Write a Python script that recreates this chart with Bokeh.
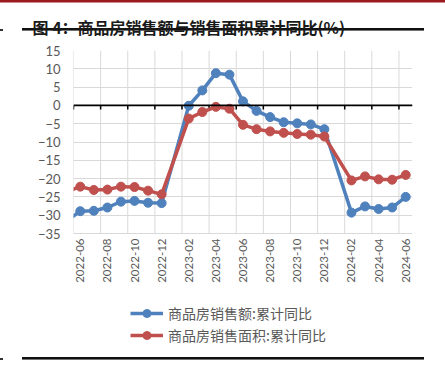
import math
from bokeh.plotting import figure
from bokeh.models import (Range1d, FixedTicker, Span, Legend, LegendItem,
                          InlineStyleSheet, Title)
from bokeh.embed import file_html
from bokeh.resources import INLINE

# ---- data ----
months = ["2022-05", "2022-06", "2022-07", "2022-08", "2022-09", "2022-10",
          "2022-11", "2022-12", "2023-02", "2023-03", "2023-04", "2023-05",
          "2023-06", "2023-07", "2023-08", "2023-09", "2023-10", "2023-11",
          "2023-12", "2024-02", "2024-03", "2024-04", "2024-05", "2024-06"]
sales_amount = [-31.5, -28.9, -28.8, -27.9, -26.3, -26.1, -26.6, -26.7,
                -0.1, 4.1, 8.8, 8.4, 1.1, -1.5, -3.2, -4.6, -4.9, -5.2, -6.5,
                -29.3, -27.6, -28.3, -27.9, -25.0]
sales_area = [-23.6, -22.2, -23.1, -23.0, -22.2, -22.3, -23.3, -24.3,
              -3.6, -1.8, -0.4, -0.9, -5.3, -6.5, -7.1, -7.5, -7.8, -8.0, -8.5,
              -20.5, -19.4, -20.2, -20.3, -19.0]
tick_labels = ["2022-06", "2022-08", "2022-10", "2022-12", "2023-02",
               "2023-04", "2023-06", "2023-08", "2023-10", "2023-12",
               "2024-02", "2024-04", "2024-06"]
y_ticks = [15, 10, 5, 0, -5, -10, -15, -20, -25, -30, -35]
series_names = ["商品房销售额:累计同比", "商品房销售面积:累计同比"]
title_text = "图 4：商品房销售额与销售面积累计同比(%)"

BLUE = "#4F81BD"
RED = "#C0504D"
GRID = "#D9D9D9"
W, H = 445, 367

# layout (pixels): plot area top/bottom, area below it holding labels+legend
AREA_TOP, AREA_BOTTOM, FRAME_BOTTOM = 50, 233, 350
Y_MIN, Y_MAX = min(y_ticks), max(y_ticks)
y_start = Y_MIN - (FRAME_BOTTOM - AREA_BOTTOM) * (Y_MAX - Y_MIN) / (AREA_BOTTOM - AREA_TOP)


def pos(m):
    y, mo = m.split("-")
    return (int(y) - 2022) * 12 + int(mo) - 6


xs = [pos(m) for m in months]
tick_pos = [pos(m) for m in tick_labels]
bounds = [t - 0.5 for t in tick_pos]

# page decoration rules (header red rule, title underline, footer rule)
deco_css = """
:host {
  background-color: white;
  background-image:
    linear-gradient(#9C1A1E, #9C1A1E),
    linear-gradient(#111111, #111111),
    linear-gradient(#333333, #333333),
    linear-gradient(#111111, #111111),
    linear-gradient(#333333, #333333);
  background-repeat: no-repeat;
  background-size: 445px 2.5px, 402px 2.6px, 3px 2px, 402px 2.6px, 3px 2px;
  background-position: 0px 0px, 22px 28.2px, 0px 28.5px, 22px 357.2px, 0px 357.5px;
}
"""

p = figure(width=W, height=H, output_backend="svg", toolbar_location=None,
           title=None,
           x_range=Range1d(-0.5, 24.5), y_range=Range1d(y_start, Y_MAX),
           min_border_left=73, min_border_right=33, min_border_top=AREA_TOP,
           min_border_bottom=H - FRAME_BOTTOM,
           stylesheets=[InlineStyleSheet(css=deco_css)])
p.outline_line_color = None
p.background_fill_color = "white"
p.border_fill_color = None

# title (a thin spacer panel lifts it towards the top of the page)
spacer = Title(text=" ", text_font_size="1px", standoff=9)
main_title = Title(text=title_text, align="left", offset=-41, standoff=0,
                   text_font="Noto Sans CJK SC", text_font_style="bold",
                   text_font_size="16px", text_color="#1a1a1a")
p.add_layout(spacer, "above")
p.add_layout(main_title, "above")

# x axis: labels sit just under the plot area
p.xaxis.ticker = FixedTicker(ticks=tick_pos)
p.xaxis.major_label_overrides = {t: l for t, l in zip(tick_pos, tick_labels)}
p.xaxis.major_label_orientation = math.pi / 2
p.xaxis.axis_line_color = None
p.xaxis.major_tick_line_color = None
p.xaxis.minor_tick_line_color = None
p.xaxis.major_tick_out = 0
p.xaxis.major_tick_in = 0
p.xaxis.major_label_standoff = AREA_BOTTOM - FRAME_BOTTOM + 5
p.xaxis.major_label_text_font = "Lato"
p.xaxis.major_label_text_font_size = "11.5px"
p.xaxis.major_label_text_color = "#595959"

p.yaxis.ticker = FixedTicker(ticks=y_ticks)
p.yaxis.axis_line_color = None
p.yaxis.major_tick_line_color = None
p.yaxis.minor_tick_line_color = None
p.yaxis.major_tick_out = 0
p.yaxis.major_tick_in = 0
p.yaxis.major_label_standoff = 13
p.yaxis.major_label_text_font = "Lato"
p.yaxis.major_label_text_font_size = "13px"
p.yaxis.major_label_text_color = "#595959"

# grid: horizontal from the axis ticks, vertical between category pairs
p.xgrid.visible = False
p.ygrid.grid_line_color = GRID
p.ygrid.ticker = FixedTicker(ticks=y_ticks)
p.segment(x0=bounds, y0=[Y_MIN] * len(bounds), x1=bounds,
          y1=[Y_MAX] * len(bounds), line_color=GRID, line_width=1)

# zero line with category ticks
p.add_layout(Span(location=0, dimension="width", line_color="black",
                  line_width=1.6))
p.segment(x0=bounds, y0=[0] * len(bounds), x1=bounds,
          y1=[-1.1] * len(bounds), line_color="black", line_width=1.5)

# series
l1 = p.line(xs, sales_amount, line_color=BLUE, line_width=3.5)
s1 = p.scatter(xs, sales_amount, size=9, fill_color=BLUE, line_color=BLUE)
l2 = p.line(xs, sales_area, line_color=RED, line_width=3.5)
s2 = p.scatter(xs, sales_area, size=9, fill_color=RED, line_color=RED)

legend = Legend(items=[LegendItem(label=series_names[0], renderers=[l1, s1]),
                       LegendItem(label=series_names[1], renderers=[l2, s2])],
                location=(57, 5), orientation="vertical",
                padding=0, margin=0, spacing=2,
                glyph_width=33, glyph_height=20, label_height=20,
                label_standoff=5, border_line_color=None,
                background_fill_alpha=0,
                label_text_font="Noto Sans CJK SC",
                label_text_font_size="14px",
                label_text_color="#595959")
p.add_layout(legend)

open("out.html", "w").write(file_html(p, INLINE))
